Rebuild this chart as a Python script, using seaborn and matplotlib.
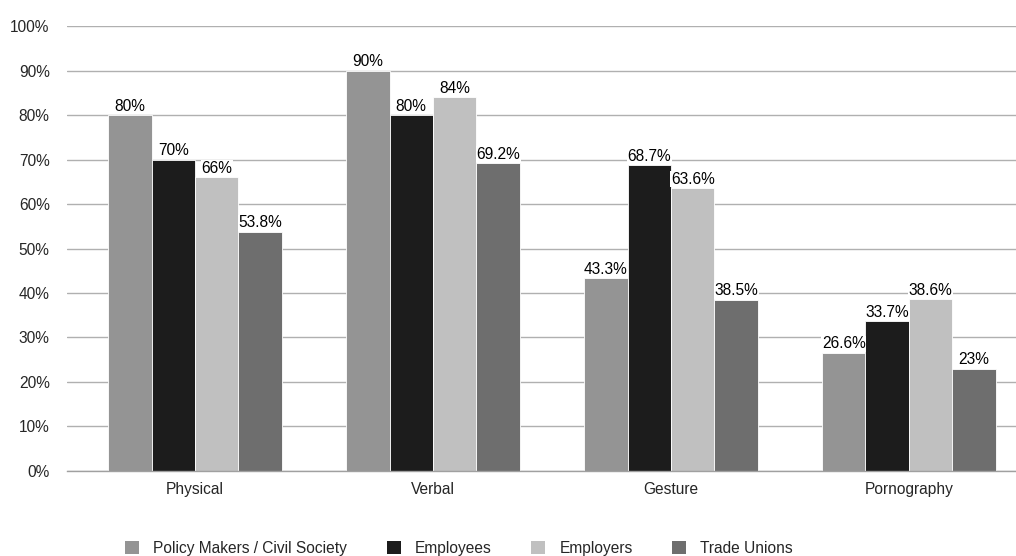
import matplotlib
matplotlib.use("Agg")
import matplotlib.pyplot as plt
import seaborn as sns
import pandas as pd
from matplotlib.patches import Patch

categories = ["Physical", "Verbal", "Gesture", "Pornography"]
groups = ["Policy Makers / Civil Society", "Employees", "Employers", "Trade Unions"]
policy = [80, 90, 43.3, 26.6]
employees = [70, 80, 68.7, 33.7]
employers = [66, 84, 63.6, 38.6]
unions = [53.8, 69.2, 38.5, 23]
labels = {
    "Policy Makers / Civil Society": ["80%", "90%", "43.3%", "26.6%"],
    "Employees": ["70%", "80%", "68.7%", "33.7%"],
    "Employers": ["66%", "84%", "63.6%", "38.6%"],
    "Trade Unions": ["53.8%", "69.2%", "38.5%", "23%"],
}
colors = ["#949494", "#1c1c1c", "#c0c0c0", "#6e6e6e"]

rows = []
for g, vals in zip(groups, [policy, employees, employers, unions]):
    for c, v in zip(categories, vals):
        rows.append({"cat": c, "grp": g, "val": v})
df = pd.DataFrame(rows)

sns.set_style("white")
plt.rcParams["font.family"] = ["Liberation Sans", "DejaVu Sans"]
FS = 11.2

fig = plt.figure(figsize=(10.16, 5.56), dpi=100)
ax = fig.add_axes([0.066, 0.153, 0.934, 0.8])
sns.barplot(data=df, x="cat", y="val", hue="grp", hue_order=groups, order=categories,
            palette=colors, width=0.73, ax=ax, legend=False, saturation=1,
            edgecolor="white", linewidth=0.6)

for cont, g in zip(ax.containers, groups):
    texts = ax.bar_label(cont, labels=labels[g], padding=1, fontsize=FS, color="black")
    for t in texts:
        t.set_bbox(dict(facecolor="white", edgecolor="none", pad=0.5))
        t.set_zorder(5)

ax.set_ylim(0, 100)
ax.set_yticks(range(0, 101, 10))
ax.set_yticklabels([f"{v}%" for v in range(0, 101, 10)], fontsize=FS)
ax.yaxis.grid(True, color="#b0b0b0", linewidth=1)
ax.set_axisbelow(True)
ax.tick_params(axis="y", length=0, pad=12.5)
for s in ["top", "right", "left"]:
    ax.spines[s].set_visible(False)
ax.spines["bottom"].set_color("#a0a0a0")
ax.spines["bottom"].set_linewidth(1)

ax.set_xticks([0, 1, 2, 3])
ax.set_xticklabels(categories, fontsize=FS)
ax.tick_params(axis="x", length=0, pad=8)
ax.set_xticks([-0.5, 0.5, 1.5, 2.5, 3.5], minor=True)
ax.tick_params(axis="x", which="minor", length=8, color="#a0a0a0", width=1)
ax.set_xlabel("")
ax.set_ylabel("")

handles = [Patch(facecolor=c, edgecolor="none") for c in colors]
fig.legend(handles, groups, loc="lower center", ncol=4, frameon=False,
           bbox_to_anchor=(0.452, -0.025), fontsize=FS, handlelength=0.9,
           handleheight=0.9, columnspacing=2.55, handletextpad=0.9)

ax.set_xlim(-0.538, 3.45)
ax.autoscale(False)
fig.savefig("out.png", dpi=100)
